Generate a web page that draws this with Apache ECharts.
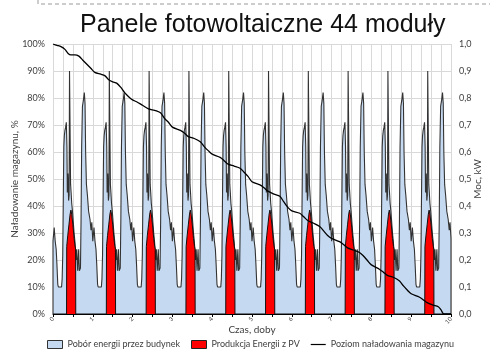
<!DOCTYPE html>
<html>
<head>
<meta charset="utf-8">
<script src="https://cdn.jsdelivr.net/npm/echarts@6/dist/echarts.min.js"></script>
<style>
html,body{margin:0;padding:0;background:#fff;}
#c{width:490px;height:350px;}
</style>
</head>
<body>
<div id="c"></div>
<script>
// ---- data ----
const titleText = 'Panele fotowoltaiczne 44 moduły';
const seriesNames = ['Pobór energii przez budynek', 'Produkcja Energii z PV', 'Poziom naładowania magazynu'];
const dayCount = 10;
// one day's building load profile (day fraction -> kW); every day in the picture is identical
const loadDayT = [0.000,0.030,0.055,0.080,0.100,0.120,0.135,0.215,0.230,0.245,0.260,0.272,0.285,0.300,0.315,0.335,0.350,0.360,0.375,0.392,0.405,0.415,0.430,0.442,0.455,0.470,0.490,0.510,0.530,0.550,0.565,0.580,0.597,0.620,0.645,0.662,0.690,0.705,0.720,0.740,0.762,0.787,0.805,0.820,0.840,0.865,0.895,0.930,0.955,0.975];
const loadDayV = [0.27, 0.32, 0.27, 0.24, 0.18, 0.11, 0.10, 0.10, 0.13, 0.22, 0.45, 0.62, 0.66, 0.68, 0.69, 0.71, 0.62, 0.45, 0.52, 0.42, 0.44, 0.90, 0.90, 0.48, 0.45, 0.41, 0.38, 0.34, 0.30, 0.27, 0.24, 0.20, 0.24, 0.16, 0.24, 0.16, 0.17, 0.35, 0.62, 0.77, 0.79, 0.82, 0.78, 0.60, 0.48, 0.44, 0.38, 0.35, 0.31, 0.34];
const loadEnd = 0.28;
// one day's PV production (day fraction -> kW)
const pvDayT = [0.340,0.345,0.370,0.400,0.430,0.450,0.470,0.500,0.530,0.555,0.568,0.572];
const pvDayV = [0,    0.25, 0.29, 0.33, 0.37, 0.385,0.37, 0.33, 0.28, 0.25, 0.24, 0];
// storage state of charge (day -> %)
const socT = [0,0.1,0.2,0.3,0.38,0.45,0.55,0.65,0.75,0.85,0.95,1.05,1.2,1.3,1.4,1.5,1.6,1.7,1.8,1.9,2.0,2.1,2.25,2.4,2.5,2.6,2.7,2.8,2.9,3.0,3.2,3.3,3.4,3.55,3.7,3.8,3.9,4.0,4.2,4.3,4.4,4.55,4.7,4.8,4.9,5.0,5.2,5.3,5.4,5.55,5.7,5.8,5.9,6.0,6.2,6.3,6.4,6.55,6.7,6.8,6.9,7.0,7.2,7.3,7.4,7.55,7.7,7.8,7.9,8.0,8.2,8.3,8.4,8.55,8.7,8.8,8.9,9.0,9.2,9.3,9.4,9.55,9.68,9.75,9.82,10];
const socV = [100,99.5,99,98,96.5,96,96,95.5,94,92.5,91,89.5,88.8,88.3,86.8,86,85.5,84,82,80.5,79.3,78.6,77.3,76,75.6,75.2,74.5,72.5,71,69.2,68,67,65.7,65,63.8,62,60.5,59.2,58,56.8,55.5,54.8,54,52.5,51,49,47.8,46.8,45.5,44.4,43.6,41.5,39.5,38.2,37.3,36,34.6,33.6,32.4,30.8,29.1,28,26.8,25.7,24.5,23.7,22.8,21.5,19.8,18.2,16.6,15.5,14.3,13.6,12.3,10.5,8.9,7.5,6.3,5.3,4.2,3.3,2.7,1.5,0,0];

// ---- build series data ----
const loadData = [[0, 0]];
const pvData = [[0, 0]];
for (let d = 0; d < dayCount; d++) {
  loadDayT.forEach((t, i) => loadData.push([d + t, loadDayV[i]]));
  pvDayT.forEach((t, i) => pvData.push([d + t, pvDayV[i]]));
}
loadData.push([dayCount, loadEnd], [dayCount, 0]);
pvData.push([dayCount, 0]);
const socData = socT.map((t, i) => [t, socV[i]]);

const FONT = 'Lato, "Liberation Sans", Arial, sans-serif';
const TXT = '#404040';
const GRID = '#d9d9d9';
const chart = echarts.init(document.getElementById('c'), null, {renderer: 'canvas'});
chart.setOption({
  animation: false,
  backgroundColor: '#fff',
  title: {
    text: titleText,
    left: 75, top: 8,
    textStyle: {fontFamily: '"Liberation Sans", Arial, sans-serif', fontSize: 25, fontWeight: 'normal', color: '#111'}
  },
  graphic: [{
    type: 'polyline', silent: true,
    shape: {points: [[38, 0], [38, 4], [490, 4]]},
    style: {stroke: '#9a9a9a', lineWidth: 1, lineDash: [4, 3], fill: null}
  }],
  grid: {left: 53, right: 39, top: 44, bottom: 36, containLabel: false, outerBoundsMode: 'none'},
  legend: {
    left: 47, top: 340, width: 440, padding: 0, itemWidth: 15, itemHeight: 8, itemGap: 11,
    symbolKeepAspect: true,
    textStyle: {fontFamily: FONT, fontSize: 9, color: TXT},
    data: [
      {name: seriesNames[0], icon: 'rect', itemStyle: {color: '#c5d9f1', borderColor: '#333', borderWidth: 1}},
      {name: seriesNames[1], icon: 'rect', itemStyle: {color: '#ff0000', borderColor: '#222', borderWidth: 1}},
      {name: seriesNames[2], icon: 'path://M0,0H30V2.4H0Z', itemStyle: {color: '#000', borderWidth: 0}}
    ]
  },
  xAxis: {
    type: 'value', min: 0, max: dayCount, interval: 0.5,
    name: 'Czas, doby', nameLocation: 'middle', nameGap: 11, nameMoveOverlap: false,
    nameTextStyle: {fontFamily: FONT, fontSize: 10, color: TXT},
    axisLine: {show: true, lineStyle: {color: '#000', width: 1}},
    axisTick: {show: true, length: 3, lineStyle: {color: '#000'}},
    axisLabel: {fontFamily: FONT, fontSize: 6, color: TXT, rotate: 45, margin: 4,
      formatter: v => Number.isInteger(v) ? String(v) : ''},
    splitLine: {show: true, lineStyle: {color: GRID, width: 1}},
    minorTick: {show: false, splitNumber: 2},
    minorSplitLine: {show: true, lineStyle: {color: GRID, width: 1}}
  },
  yAxis: [{
    type: 'value', min: 0, max: 100, interval: 10,
    name: 'Naładowanie magazynu, %', nameLocation: 'middle', nameGap: 33, nameRotate: 90, nameMoveOverlap: false,
    nameTextStyle: {fontFamily: FONT, fontSize: 10, color: TXT},
    axisLine: {show: false}, axisTick: {show: false},
    axisLabel: {fontFamily: FONT, fontSize: 9, color: TXT, margin: 8, formatter: '{value}%'},
    splitLine: {show: true, lineStyle: {color: GRID, width: 1}}
  }, {
    type: 'value', min: 0, max: 1, interval: 0.1,
    name: 'Moc, kW', nameLocation: 'middle', nameGap: 22, nameRotate: 90, nameMoveOverlap: false,
    nameTextStyle: {fontFamily: FONT, fontSize: 10, color: TXT},
    axisLine: {show: false}, axisTick: {show: false},
    axisLabel: {fontFamily: FONT, fontSize: 9, color: TXT, margin: 8,
      formatter: v => v.toFixed(1).replace('.', ',')},
    splitLine: {show: false}
  }],
  series: [{
    name: seriesNames[0], type: 'line', yAxisIndex: 1, data: loadData,
    symbol: 'none', showSymbol: false, z: 2,
    itemStyle: {color: '#c5d9f1'},
    lineStyle: {color: '#333', width: 1.1},
    areaStyle: {color: '#c5d9f1', opacity: 1}
  }, {
    name: seriesNames[1], type: 'line', yAxisIndex: 1, data: pvData,
    symbol: 'none', showSymbol: false, z: 3,
    itemStyle: {color: '#ff0000'},
    lineStyle: {color: '#111', width: 1},
    areaStyle: {color: '#ff0000', opacity: 1}
  }, {
    name: seriesNames[2], type: 'line', yAxisIndex: 0, data: socData,
    symbol: 'none', showSymbol: false, smooth: 0.3, z: 4,
    itemStyle: {color: '#000'},
    lineStyle: {color: '#000', width: 1.3}
  }]
});
</script>
</body>
</html>
